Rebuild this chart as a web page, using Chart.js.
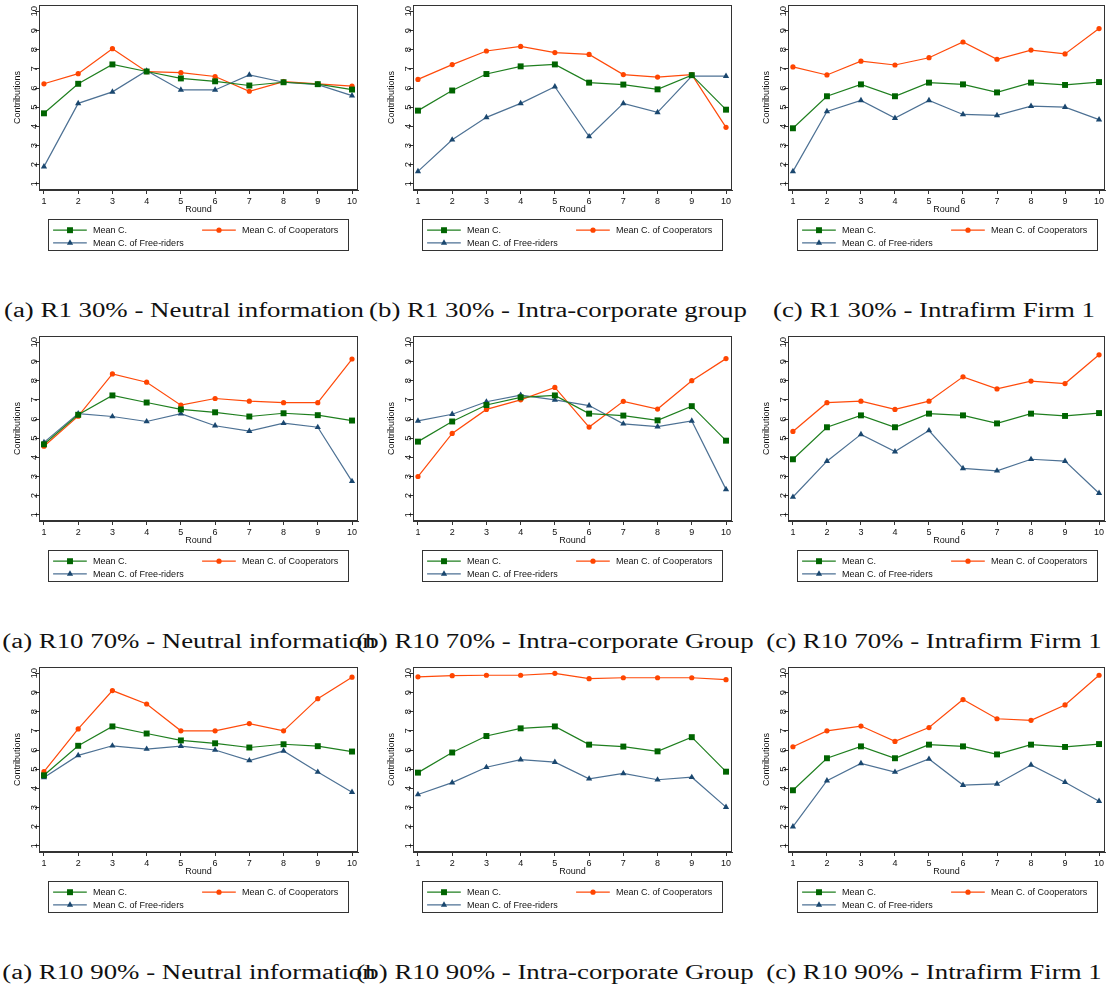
<!DOCTYPE html>
<html>
<head>
<meta charset="utf-8">
<script src="https://cdn.jsdelivr.net/npm/chart.js@4.4.0/dist/chart.umd.min.js"></script>
<style>
  html, body { margin: 0; padding: 0; background: #fff; overflow: hidden; width: 1107px; height: 994px; }
  canvas { position: absolute; }
  .cap { position: absolute; white-space: nowrap; font-family: 'Liberation Serif', serif; font-size: 20px; line-height: 22px; color: #111; }
</style>
</head>
<body>
<script>
// data
const rounds = [1, 2, 3, 4, 5, 6, 7, 8, 9, 10];
const yTicks = [1, 2, 3, 4, 5, 6, 7, 8, 9, 10];
const seriesNames = ['Mean C.', 'Mean C. of Cooperators', 'Mean C. of Free-riders'];

const meanNeutral = [4.68, 6.22, 7.23, 6.86, 6.5, 6.35, 6.13, 6.3, 6.2, 5.92];
const meanGroup   = [4.82, 5.87, 6.73, 7.13, 7.23, 6.28, 6.18, 5.93, 6.67, 4.87];
const meanFirm    = [3.9, 5.57, 6.19, 5.57, 6.28, 6.19, 5.77, 6.28, 6.16, 6.31];

const coopR1Neutral = [6.22, 6.75, 8.05, 6.85, 6.8, 6.6, 5.83, 6.33, 6.22, 6.1];
const freeR1Neutral = [1.9, 5.2, 5.8, 6.9, 5.9, 5.9, 6.68, 6.3, 6.18, 5.6];
const coopR1Group   = [6.45, 7.22, 7.93, 8.17, 7.85, 7.75, 6.7, 6.57, 6.7, 3.95];
const freeR1Group   = [1.65, 3.3, 4.47, 5.2, 6.07, 3.47, 5.2, 4.73, 6.62, 6.62];
const coopR1Firm    = [7.1, 6.68, 7.4, 7.2, 7.58, 8.4, 7.5, 7.98, 7.78, 9.1];
const freeR1Firm    = [1.65, 4.78, 5.35, 4.43, 5.35, 4.62, 4.57, 5.05, 5.0, 4.35];

const coopR10s70Neutral = [4.58, 6.15, 8.35, 7.92, 6.72, 7.07, 6.93, 6.85, 6.85, 9.13];
const freeR10s70Neutral = [4.78, 6.28, 6.13, 5.87, 6.28, 5.65, 5.37, 5.78, 5.57, 2.75];
const coopR10s70Group   = [3.0, 5.25, 6.5, 7.0, 7.65, 5.58, 6.92, 6.52, 8.0, 9.15];
const freeR10s70Group   = [5.9, 6.25, 6.9, 7.25, 7.0, 6.7, 5.75, 5.6, 5.9, 2.33];
const coopR10s70Firm    = [5.35, 6.85, 6.93, 6.5, 6.93, 8.2, 7.57, 7.98, 7.85, 9.35];
const freeR10s70Firm    = [1.93, 3.8, 5.2, 4.3, 5.4, 3.42, 3.3, 3.9, 3.8, 2.13];

const coopR10s90Neutral = [4.87, 7.1, 9.1, 8.4, 7.0, 7.0, 7.38, 7.0, 8.68, 9.8];
const freeR10s90Neutral = [4.57, 5.72, 6.22, 6.05, 6.2, 6.0, 5.45, 5.95, 4.85, 3.8];
const coopR10s90Group   = [9.82, 9.88, 9.9, 9.9, 10.0, 9.72, 9.77, 9.77, 9.77, 9.67];
const freeR10s90Group   = [3.68, 4.3, 5.1, 5.5, 5.37, 4.5, 4.78, 4.45, 4.58, 3.02];
const coopR10s90Firm    = [6.17, 7.0, 7.25, 6.45, 7.17, 8.63, 7.63, 7.55, 8.35, 9.9];
const freeR10s90Firm    = [2.0, 4.4, 5.3, 4.85, 5.53, 4.17, 4.23, 5.22, 4.32, 3.33];

const captions = [
  '(a) R1 30% - Neutral information', '(b) R1 30% - Intra-corporate group', '(c) R1 30% - Intrafirm Firm 1',
  '(a) R10 70% - Neutral information', '(b) R10 70% - Intra-corporate Group', '(c) R10 70% - Intrafirm Firm 1',
  '(a) R10 90% - Neutral information', '(b) R10 90% - Intra-corporate Group', '(c) R10 90% - Intrafirm Firm 1'
];

const panels = [
  [meanNeutral, coopR1Neutral, freeR1Neutral], [meanGroup, coopR1Group, freeR1Group], [meanFirm, coopR1Firm, freeR1Firm],
  [meanNeutral, coopR10s70Neutral, freeR10s70Neutral], [meanGroup, coopR10s70Group, freeR10s70Group], [meanFirm, coopR10s70Firm, freeR10s70Firm],
  [meanNeutral, coopR10s90Neutral, freeR10s90Neutral], [meanGroup, coopR10s90Group, freeR10s90Group], [meanFirm, coopR10s90Firm, freeR10s90Firm]
];

// layout
const colPlotLeft = [39, 413, 788];
const colPlotWidth = [319, 319, 317];
const rowPlotTop = [5, 336, 667];
const plotHeight = 185;
const capCenterX = [[184, 558, 934], [189, 555, 934], [189, 555, 934]];
const capCenterY = [310, 641, 972];

const frameColor = '#333';
const lineColors = ['#1f7f1f', '#ff4a0a', '#4d7194'];
const markColors = ['#006400', '#ff4500', '#1a476f'];
const markStyles = ['rect', 'circle', 'triangle'];
const markRadius = [4.2, 2.6, 3.6];
const sans = '"Liberation Sans", Arial, sans-serif';

function drawMark(ctx, style, x, y, r) {
  ctx.beginPath();
  if (style === 'rect') {
    const s = r * Math.SQRT1_2;
    ctx.rect(x - s, y - s, 2 * s, 2 * s);
  } else if (style === 'circle') {
    ctx.arc(x, y, r, 0, Math.PI * 2);
  } else {
    let a = 0;
    ctx.moveTo(x + Math.sin(a) * r, y - Math.cos(a) * r);
    a += Math.PI * 2 / 3;
    ctx.lineTo(x + Math.sin(a) * r, y - Math.cos(a) * r);
    a += Math.PI * 2 / 3;
    ctx.lineTo(x + Math.sin(a) * r, y - Math.cos(a) * r);
    ctx.closePath();
  }
  ctx.fill();
}

const framePlugin = {
  id: 'frame',
  afterDraw(chart) {
    const { ctx, chartArea: a } = chart;
    ctx.save();
    ctx.strokeStyle = frameColor;
    ctx.lineWidth = 1;
    ctx.strokeRect(Math.round(a.left) + 0.5, Math.round(a.top) + 0.5, Math.round(a.right - a.left) - 1, Math.round(a.bottom - a.top) - 1);
    ctx.restore();
  }
};

// stata-style legend: box under the axis, two columns
const legendItems = [{ dx: 0, dy: 10.7 }, { dx: 149, dy: 10.7 }, { dx: 0, dy: 23.4 }];
const legendBoxPlugin = {
  id: 'legendBox',
  afterDraw(chart) {
    const { ctx, chartArea: a } = chart;
    const bx = Math.round(a.left + 8.7) + 0.5;
    const by = Math.round(a.bottom + 29.3) + 0.5;
    ctx.save();
    ctx.strokeStyle = frameColor;
    ctx.lineWidth = 1;
    ctx.strokeRect(bx, by, 300, 31);
    ctx.font = '9px ' + sans;
    ctx.textBaseline = 'middle';
    chart.data.datasets.forEach((ds, i) => {
      const it = legendItems[i];
      const x0 = bx + it.dx;
      const y0 = by + it.dy;
      ctx.strokeStyle = ds.borderColor;
      ctx.lineWidth = 1.2;
      ctx.beginPath();
      ctx.moveTo(x0 + 4.6, y0);
      ctx.lineTo(x0 + 38.3, y0);
      ctx.stroke();
      ctx.fillStyle = ds.pointBackgroundColor;
      drawMark(ctx, ds.pointStyle, x0 + 21.5, y0, ds.pointRadius);
      ctx.fillStyle = '#111';
      ctx.fillText(ds.label, x0 + 44.6, y0 + 0.5);
    });
    ctx.restore();
  }
};

function makeDataset(i, values) {
  return {
    label: seriesNames[i],
    data: rounds.map((r, k) => ({ x: r, y: values[k] })),
    borderColor: lineColors[i],
    borderWidth: 1.2,
    pointStyle: markStyles[i],
    pointRadius: markRadius[i],
    pointBackgroundColor: markColors[i],
    pointBorderColor: markColors[i],
    pointBorderWidth: 0,
    tension: 0,
    fill: false
  };
}

panels.forEach((series, p) => {
  const row = Math.floor(p / 3), col = p % 3;
  const canvas = document.createElement('canvas');
  const w = 39 + colPlotWidth[col] + 12;
  const h = 5 + plotHeight + 25 + 38;
  canvas.width = w;
  canvas.height = h;
  canvas.style.width = w + 'px';
  canvas.style.height = h + 'px';
  canvas.style.left = (colPlotLeft[col] - 39) + 'px';
  canvas.style.top = (rowPlotTop[row] - 5) + 'px';
  document.body.appendChild(canvas);

  new Chart(canvas.getContext('2d'), {
    type: 'line',
    data: { datasets: series.map((vals, i) => makeDataset(i, vals)) },
    options: {
      responsive: false,
      animation: false,
      devicePixelRatio: 1,
      layout: { padding: { left: 0, top: 5, right: 12, bottom: 38 } },
      plugins: { legend: { display: false }, tooltip: { enabled: false } },
      scales: {
        x: {
          type: 'linear', min: 0.855, max: 10.175,
          afterBuildTicks: s => { s.ticks = rounds.map(v => ({ value: v })); },
          afterFit: s => { s.height = 25; },
          grid: { drawOnChartArea: false, drawTicks: true, tickLength: 4, color: frameColor },
          border: { display: true, color: frameColor },
          ticks: { font: { family: sans, size: 9 }, color: '#111', padding: 2, maxRotation: 0, autoSkip: false },
          title: { display: true, text: 'Round', font: { family: sans, size: 9 }, color: '#111', padding: { top: 0, bottom: 0 } }
        },
        y: {
          type: 'linear', min: 0.68, max: 10.33,
          afterBuildTicks: s => { s.ticks = yTicks.map(v => ({ value: v })); },
          afterFit: s => { s.width = 39; },
          grid: { drawOnChartArea: false, drawTicks: true, tickLength: 4, color: frameColor },
          border: { display: true, color: frameColor },
          ticks: { font: { family: sans, size: 9.5 }, color: '#111', minRotation: 90, maxRotation: 90, crossAlign: 'center', padding: -5, autoSkip: false },
          title: { display: true, text: 'Contributions', font: { family: sans, size: 9 }, color: '#111', padding: { top: 12, bottom: 0 } }
        }
      }
    },
    plugins: [framePlugin, legendBoxPlugin]
  });
});

// sub-figure captions (serif, stretched to the width of the original)
const mctx = document.createElement('canvas').getContext('2d');
mctx.font = '20px "Liberation Serif"';
const capScale = 360 / mctx.measureText(captions[0]).width;
captions.forEach((text, p) => {
  const row = Math.floor(p / 3), col = p % 3;
  const d = document.createElement('div');
  d.className = 'cap';
  d.textContent = text;
  d.style.left = capCenterX[row][col] + 'px';
  d.style.top = (capCenterY[row] - 11) + 'px';
  d.style.transform = 'translateX(-50%) scaleX(' + capScale.toFixed(3) + ')';
  document.body.appendChild(d);
});
</script>
</body>
</html>
